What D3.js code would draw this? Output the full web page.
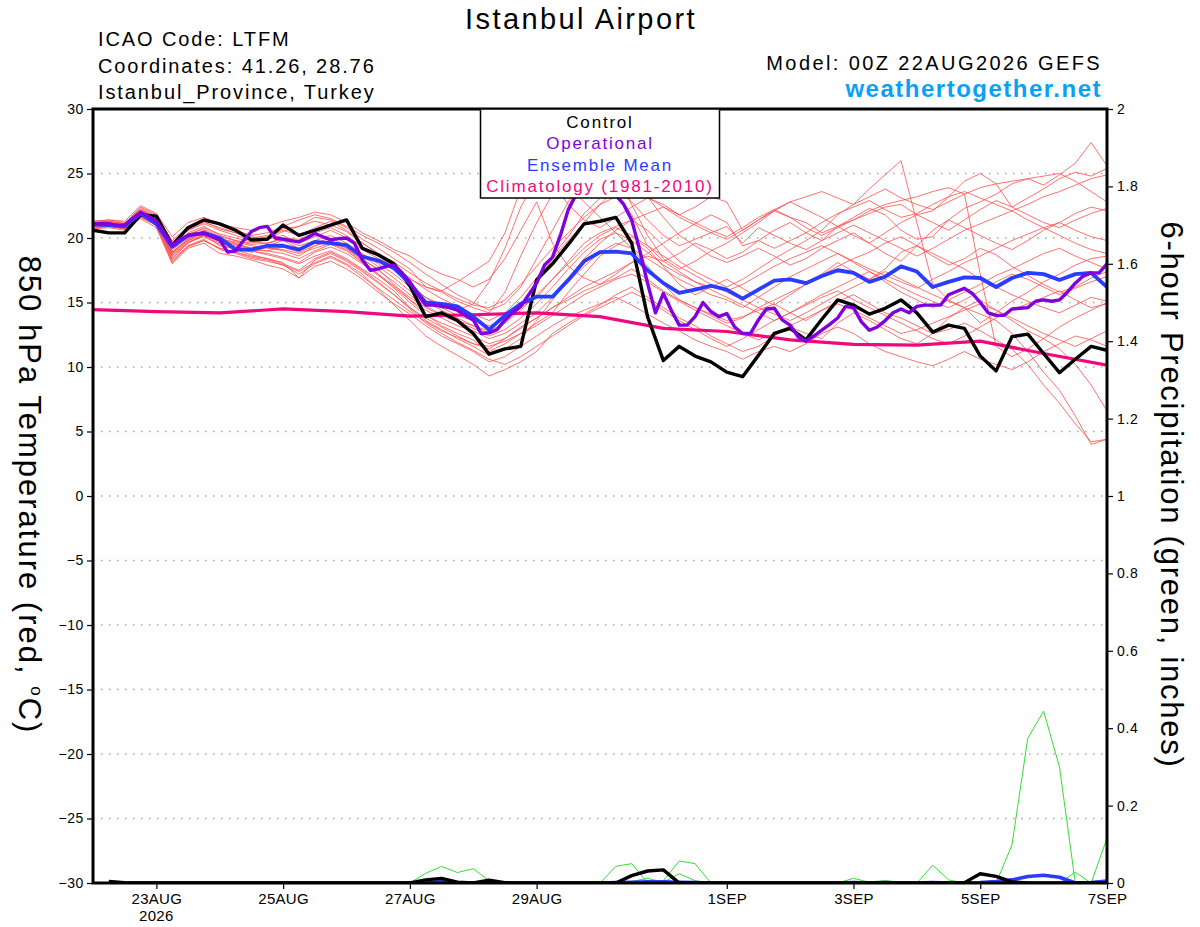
<!DOCTYPE html>
<html>
<head>
<meta charset="utf-8">
<title>Istanbul Airport - GEFS 850 hPa temperature</title>
<script src="https://cdn.jsdelivr.net/npm/d3@7"></script>
<style>
  body { margin: 0; background: #fff; }
  text { font-family: "Liberation Sans", Arial, Helvetica, sans-serif; }
</style>
</head>
<body>
<svg id="chart" width="1200" height="927"></svg>
<script>

// ---- data (6-hourly from 00Z 22AUG2026, index 0..64) ----
var controlTemp = [
  20.6, 20.4, 20.4, 21.8, 21.7, 19.45, 20.8, 21.4,
  21.1, 20.6, 19.85, 19.9, 21.0, 20.2, 20.6, 21.0,
  21.4, 19.2, 18.7, 18.0, 16.3, 13.9, 14.2, 13.6,
  12.6, 11.0, 11.4, 11.6, 16.75, 18.0, 19.5, 21.1,
  21.3, 21.6, 19.6, 13.9, 10.5, 11.6, 10.85, 10.4,
  9.6, 9.25, 10.9, 12.6, 13.0, 12.1, 13.7, 15.2,
  14.8, 14.1, 14.55, 15.2, 14.2, 12.7, 13.25, 13.0,
  10.85, 9.7, 12.35, 12.55, 11.05, 9.56, 10.6, 11.6,
  11.3
];

var meanTemp = [
  21.05, 21.0, 20.9, 21.9, 21.1, 19.3, 20.2, 20.4,
  20.0, 19.1, 19.1, 19.4, 19.4, 19.1, 19.7, 19.6,
  19.45, 18.55, 18.25, 17.65, 16.5, 15.0, 14.9, 14.7,
  13.9, 12.9, 14.0, 14.9, 15.45, 15.45, 16.75, 18.2,
  18.9, 18.95, 18.8, 17.5, 16.5, 15.75, 16.0, 16.3,
  16.0, 15.3, 16.0, 16.7, 16.8, 16.5, 17.05, 17.5,
  17.3, 16.6, 17.0, 17.8, 17.4, 16.2, 16.6, 16.95,
  16.9, 16.2, 16.9, 17.3, 17.2, 16.75, 17.2, 17.3,
  16.2
];

// operational run is 3-hourly (index 0..128)
var operTemp = [
  21.1, 21.1, 21.1, 21.0, 21.0, 21.5, 22.0, 21.7,
  21.3, 20.4, 19.45, 19.9, 20.2, 20.3, 20.35, 20.1,
  19.85, 18.9, 19.0, 19.8, 20.5, 20.8, 20.9, 20.0,
  19.9, 19.8, 19.7, 20.0, 20.35, 20.1, 19.85, 19.95,
  20.0, 19.6, 18.3, 17.5, 17.6, 17.8, 17.9, 17.3,
  16.6, 15.6, 14.8, 14.8, 14.7, 14.6, 14.4, 14.0,
  13.65, 12.6, 12.65, 12.9, 13.65, 14.2, 14.7, 15.6,
  16.5, 17.9, 18.5, 20.2, 22.2, 23.4, 24.6, 25.3,
  25.6, 25.2, 23.3, 22.6, 21.4, 19.1, 16.5, 14.2,
  15.7, 14.4, 13.25, 13.25, 13.9, 15.0, 14.3, 13.9,
  14.15, 13.1, 12.6, 12.6, 13.65, 14.5, 14.55, 13.65,
  13.25, 12.35, 12.0, 12.4, 12.85, 13.3, 13.8, 14.7,
  14.6, 13.5, 12.85, 13.1, 13.6, 14.2, 14.5, 14.2,
  14.7, 14.8, 14.8, 14.8, 15.6, 15.85, 16.1, 15.7,
  15.0, 14.2, 14.0, 14.0, 14.5, 14.55, 14.6, 15.1,
  15.2, 15.1, 15.2, 15.8, 16.5, 17.05, 17.3, 17.3,
  18.0
];

// climatology 1981-2010, daily (22AUG .. 7SEP)
var climTemp = [14.45, 14.3, 14.2, 14.5, 14.3, 13.95, 14.05, 14.2, 13.9,
                13.0, 12.75, 12.1, 11.75, 11.7, 12.0, 11.05, 10.15];

var memberTemps = [
  [21.2, 21.3, 21.1, 22.4, 21.8, 19.6, 20.6, 21.2, 20.8, 20.4, 20.1, 19.9, 20.5, 20.9, 21.6, 21.4,
   20.8, 19.9, 19.2, 18.4, 17.6, 16.2, 15.8, 15.1, 14.6, 14.2, 15.8, 18.6, 21.2, 23.4, 24.8, 25.6,
   24.9, 23.6, 21.8, 19.4, 18.2, 18.8, 19.6, 19.1, 18.4, 18.9, 19.8, 20.6, 21.2, 20.4, 19.8, 20.9,
   21.6, 22.3, 21.8, 20.6, 19.9, 20.1, 21.4, 22.3, 22.8, 23.4, 24.2, 24.6, 24.1, 24.9, 25.8, 27.4, 25.6],
  [20.9, 21.0, 20.8, 21.8, 21.3, 18.4, 19.6, 20.2, 19.4, 19.2, 18.9, 19.3, 19.0, 18.6, 19.4, 19.8,
   19.2, 18.3, 17.6, 16.4, 15.2, 14.1, 13.2, 12.6, 12.1, 11.2, 11.8, 12.6, 13.4, 14.2, 15.8, 17.2,
   18.6, 19.4, 20.1, 19.2, 17.8, 16.4, 15.6, 16.2, 16.8, 16.1, 15.4, 14.8, 15.6, 16.4, 17.2, 18.1,
   17.4, 16.8, 17.6, 18.9, 19.4, 18.6, 17.9, 18.4, 19.2, 18.7, 17.8, 17.1, 16.4, 15.8, 16.2, 16.9, 17.4],
  [21.0, 21.1, 20.9, 22.0, 20.9, 18.1, 19.4, 19.9, 19.1, 18.8, 18.4, 18.2, 17.9, 17.4, 18.1, 18.6,
   18.0, 17.2, 16.0, 14.8, 13.6, 12.4, 11.6, 10.9, 10.2, 9.3, 9.8, 10.4, 11.2, 12.6, 13.4, 14.1,
   14.8, 15.6, 16.2, 15.4, 14.6, 13.8, 13.2, 12.4, 11.8, 11.2, 11.6, 12.4, 13.1, 12.6, 12.2, 13.4,
   14.2, 13.6, 12.9, 12.2, 11.8, 12.6, 13.8, 14.6, 15.2, 14.4, 13.6, 12.8, 12.2, 11.4, 10.2, 8.6, 6.6],
  [21.3, 21.4, 21.2, 22.2, 21.6, 19.2, 20.4, 20.9, 20.2, 19.8, 19.6, 19.9, 20.2, 19.6, 20.1, 20.6,
   20.0, 19.1, 18.4, 17.9, 16.8, 16.2, 15.9, 16.6, 17.4, 18.2, 20.4, 23.8, 25.6, 24.2, 22.6, 21.4,
   20.8, 21.6, 22.4, 23.1, 22.6, 21.8, 22.4, 23.2, 22.8, 20.6, 21.4, 22.1, 21.6, 21.2, 20.4, 20.9,
   21.4, 21.9, 22.4, 22.6, 21.8, 22.1, 23.2, 24.4, 25.0, 24.2, 22.4, 23.1, 23.8, 24.6, 25.1, 24.8, 25.4],
  [20.8, 20.9, 20.7, 21.6, 21.0, 18.6, 19.8, 20.2, 19.6, 19.3, 19.0, 18.7, 18.4, 18.0, 18.6, 19.0,
   18.4, 17.6, 16.8, 15.9, 14.6, 13.8, 13.1, 12.4, 11.8, 11.4, 12.2, 13.1, 13.8, 14.6, 15.2, 15.9,
   16.4, 16.9, 17.6, 16.8, 15.9, 15.2, 14.6, 14.1, 13.6, 13.9, 14.4, 14.9, 14.2, 13.6, 14.4, 15.1,
   15.6, 14.9, 14.2, 13.8, 13.2, 12.6, 12.9, 13.4, 12.8, 12.1, 11.4, 10.2, 8.6, 7.2, 5.6, 4.2, 4.4],
  [21.1, 21.2, 21.0, 22.1, 21.4, 19.4, 20.6, 21.1, 20.6, 20.2, 19.8, 20.1, 20.6, 20.2, 20.8, 21.3,
   20.6, 19.6, 18.8, 17.6, 16.4, 15.4, 14.6, 14.0, 13.6, 13.2, 13.8, 14.6, 15.4, 16.8, 18.2, 19.6,
   20.4, 20.9, 21.4, 20.6, 19.4, 18.2, 17.4, 16.8, 16.2, 16.8, 17.6, 18.4, 19.1, 19.8, 20.6, 21.8,
   22.6, 23.8, 24.9, 26.0, 21.2, 16.4, 15.2, 14.6, 13.4, 14.2, 15.1, 15.8, 16.6, 17.2, 17.9, 18.4, 18.6],
  [21.0, 21.1, 20.9, 21.9, 21.2, 18.9, 19.9, 20.6, 20.0, 19.6, 19.2, 19.4, 19.8, 19.2, 19.6, 20.0,
   19.4, 18.6, 17.8, 16.9, 15.9, 15.1, 14.4, 13.8, 13.2, 12.6, 13.4, 14.8, 16.6, 18.4, 19.8, 21.2,
   22.6, 23.8, 24.6, 23.2, 21.6, 20.2, 19.4, 18.6, 18.1, 18.6, 19.2, 18.6, 17.9, 18.4, 19.2, 19.8,
   20.4, 19.6, 18.8, 18.2, 19.4, 20.6, 21.4, 20.8, 20.2, 19.6, 19.1, 19.8, 20.6, 21.2, 21.9, 22.4, 22.1],
  [20.7, 20.8, 20.6, 21.5, 20.8, 18.0, 19.2, 19.6, 18.8, 18.6, 18.3, 17.9, 17.6, 16.9, 17.8, 18.2,
   17.6, 16.8, 15.8, 14.9, 14.1, 13.2, 12.4, 11.8, 11.2, 10.4, 10.8, 11.6, 12.4, 13.2, 13.9, 14.4,
   14.9, 15.4, 14.8, 14.1, 13.4, 12.8, 12.1, 11.6, 11.2, 10.6, 11.2, 11.6, 11.2, 11.8, 12.6, 13.1,
   12.6, 11.8, 11.2, 10.8, 10.4, 10.1, 10.6, 11.2, 10.6, 10.2, 9.8, 10.4, 11.2, 11.8, 12.4, 12.1, 11.6],
  [21.2, 21.3, 21.1, 22.3, 21.7, 19.8, 20.9, 21.5, 21.0, 20.6, 20.2, 20.4, 20.9, 21.4, 21.8, 21.5,
   20.9, 20.2, 19.6, 18.9, 18.1, 17.2, 16.4, 15.6, 15.0, 14.4, 14.9, 16.2, 18.4, 20.6, 22.8, 24.6,
   25.4, 24.8, 22.6, 20.2, 18.4, 17.6, 18.2, 19.0, 19.6, 20.4, 21.2, 22.1, 22.8, 22.2, 21.6, 20.9,
   20.2, 19.6, 20.4, 21.2, 21.8, 21.2, 20.6, 21.4, 22.2, 22.9, 22.4, 21.8, 21.2, 20.8, 21.4, 21.9, 22.3],
  [21.0, 21.0, 20.8, 21.7, 21.1, 18.7, 19.6, 20.3, 19.7, 19.4, 19.0, 18.8, 18.5, 18.1, 18.9, 19.3,
   18.8, 18.0, 17.1, 16.2, 15.2, 14.4, 13.8, 13.2, 12.8, 12.2, 12.6, 13.4, 14.2, 15.4, 16.6, 17.8,
   18.9, 19.6, 19.2, 18.4, 17.6, 16.8, 16.2, 15.6, 15.2, 14.6, 15.4, 16.2, 17.0, 17.6, 18.2, 18.8,
   18.1, 17.4, 16.8, 16.2, 15.6, 15.1, 14.6, 15.2, 15.9, 16.6, 17.2, 16.8, 16.2, 15.6, 16.1, 16.6, 17.0],
  [21.3, 21.4, 21.3, 22.5, 21.9, 20.1, 21.2, 21.6, 21.1, 20.8, 20.6, 20.9, 21.3, 21.6, 22.0, 21.8,
   21.2, 20.4, 19.8, 19.1, 18.6, 17.8, 17.2, 16.8, 16.2, 16.8, 18.4, 20.6, 22.8, 19.6, 17.8, 16.9,
   16.4, 17.2, 18.1, 18.8, 19.6, 20.4, 21.1, 21.8, 21.2, 19.4, 19.8, 19.2, 19.8, 20.4, 21.2, 21.9,
   22.4, 22.9, 22.2, 21.6, 21.9, 22.6, 23.2, 23.6, 23.1, 22.6, 22.1, 21.4, 20.8, 20.2, 19.6, 19.1, 18.8],
  [20.9, 21.0, 20.7, 21.8, 21.2, 18.8, 19.9, 20.4, 19.9, 19.7, 19.4, 19.2, 19.1, 18.8, 19.2, 19.6,
   19.1, 18.2, 17.2, 16.1, 15.0, 14.0, 13.4, 12.9, 12.4, 11.8, 12.2, 13.0, 13.8, 14.6, 15.4, 16.2,
   16.8, 17.4, 18.1, 18.6, 18.2, 17.4, 16.6, 16.0, 15.4, 14.8, 14.2, 13.6, 14.2, 14.9, 15.6, 16.2,
   16.8, 17.4, 16.6, 15.8, 15.2, 14.6, 15.2, 15.8, 16.4, 17.1, 17.6, 18.2, 18.8, 19.2, 18.6, 18.1, 17.6],
  [21.1, 21.2, 21.0, 22.0, 21.5, 19.0, 20.2, 20.8, 20.3, 20.0, 19.7, 19.6, 19.9, 19.4, 19.8, 20.2,
   19.6, 18.8, 18.0, 17.2, 16.2, 15.4, 14.8, 14.4, 14.9, 16.6, 19.2, 22.4, 24.6, 25.2, 24.1, 22.8,
   21.6, 20.4, 19.2, 17.8, 16.4, 15.2, 14.6, 14.0, 13.4, 13.8, 14.6, 15.2, 15.8, 16.4, 17.1, 17.8,
   18.4, 18.9, 19.6, 20.1, 19.4, 18.8, 18.2, 17.6, 16.8, 16.2, 15.6, 15.1, 14.6, 14.2, 14.8, 15.4, 15.1],
  [20.8, 20.9, 20.7, 21.7, 21.0, 18.3, 19.4, 19.8, 19.2, 18.9, 18.6, 18.4, 18.1, 16.9, 18.3, 18.8,
   18.2, 17.4, 16.5, 15.6, 14.6, 13.6, 12.9, 12.2, 11.6, 10.9, 11.4, 12.2, 13.6, 15.2, 16.8, 18.4,
   19.6, 20.6, 21.4, 21.9, 22.4, 21.8, 21.2, 20.6, 20.1, 20.8, 21.6, 22.2, 21.6, 20.8, 20.2, 20.8,
   21.4, 22.1, 22.6, 22.9, 23.2, 23.6, 23.9, 23.4, 17.2, 11.6, 10.8, 11.4, 12.2, 13.1, 13.8, 14.4, 15.0],
  [21.0, 21.1, 20.8, 21.9, 21.3, 18.5, 19.7, 20.1, 19.5, 19.1, 18.7, 18.4, 18.0, 17.5, 18.4, 18.9,
   18.3, 17.5, 16.6, 15.6, 14.5, 13.4, 12.6, 11.9, 11.3, 10.6, 10.2, 10.8, 11.6, 12.4, 13.2, 14.0,
   14.6, 15.2, 15.8, 15.2, 14.4, 13.6, 12.9, 12.2, 11.6, 12.2, 12.9, 13.6, 14.2, 14.8, 15.4, 15.9,
   15.2, 14.6, 14.0, 13.4, 12.8, 12.2, 11.8, 12.4, 13.1, 13.8, 14.4, 14.9, 15.4, 15.9, 15.2, 14.6, 14.9],
  [21.2, 21.3, 21.1, 22.2, 21.6, 19.5, 20.7, 21.3, 20.7, 20.4, 20.0, 20.2, 20.7, 20.9, 21.3, 21.0,
   20.5, 19.6, 18.8, 18.1, 17.3, 16.5, 15.9, 15.3, 14.8, 14.6, 15.2, 16.4, 17.8, 19.2, 20.4, 21.6,
   22.6, 23.2, 23.8, 23.2, 22.4, 21.6, 21.0, 20.4, 19.9, 20.6, 21.4, 22.2, 22.8, 23.2, 23.6, 23.1,
   22.6, 23.2, 23.8, 23.1, 22.6, 22.2, 22.8, 23.4, 23.9, 24.2, 24.4, 24.6, 24.8, 25.0, 24.4, 23.6, 22.8],
  [20.9, 21.0, 20.8, 21.8, 21.2, 18.8, 19.8, 20.4, 19.8, 19.5, 19.2, 19.0, 18.8, 18.4, 19.0, 19.5,
   19.0, 18.1, 17.2, 16.3, 15.4, 14.6, 14.0, 13.5, 13.0, 12.4, 12.9, 13.8, 14.9, 16.2, 17.6, 18.9,
   19.9, 20.4, 19.8, 18.9, 17.9, 17.2, 16.6, 16.2, 15.9, 16.4, 17.1, 17.8, 18.4, 18.9, 19.4, 18.8,
   18.2, 17.6, 17.1, 16.6, 16.1, 16.8, 17.4, 18.1, 18.6, 19.2, 19.8, 20.3, 20.8, 21.2, 20.6, 20.1, 19.8],
  [21.1, 21.1, 20.9, 21.9, 21.3, 18.9, 20.0, 20.5, 19.9, 19.5, 19.1, 19.0, 19.3, 18.9, 19.4, 19.8,
   19.2, 18.4, 17.5, 16.6, 15.6, 14.7, 14.1, 13.6, 13.2, 12.8, 13.4, 14.4, 15.6, 16.8, 18.0, 19.2,
   20.2, 20.8, 20.2, 19.4, 18.6, 17.8, 17.1, 16.4, 15.8, 15.2, 14.6, 14.1, 13.6, 14.2, 14.9, 15.6,
   16.2, 16.8, 17.4, 16.8, 16.2, 15.6, 15.1, 14.6, 14.1, 13.6, 12.6, 11.2, 9.6, 8.2, 6.2, 4.0, 4.4],
  [21.2, 21.2, 21.0, 22.1, 21.5, 19.3, 20.3, 20.7, 20.1, 19.8, 19.5, 19.6, 20.0, 19.9, 20.4, 20.8,
   20.2, 19.3, 18.6, 17.8, 16.9, 16.0, 15.3, 14.7, 14.1, 13.6, 14.2, 15.4, 16.9, 18.6, 20.1, 21.9,
   23.1, 23.9, 22.8, 21.4, 20.2, 19.4, 19.9, 20.4, 20.9, 19.6, 20.8, 20.2, 19.6, 19.1, 19.8, 20.4,
   21.0, 20.4, 19.8, 19.2, 18.6, 19.2, 19.9, 20.6, 21.1, 21.6, 22.1, 22.6, 23.2, 23.6, 24.1, 24.6, 24.9],
  [20.8, 20.9, 20.8, 21.6, 21.0, 18.2, 19.3, 19.8, 19.2, 18.9, 18.5, 18.3, 17.9, 17.2, 18.0, 18.5,
   17.9, 17.0, 16.1, 15.2, 14.3, 13.5, 12.8, 12.3, 11.8, 11.6, 12.0, 12.6, 13.2, 14.0, 14.8, 15.6,
   16.2, 16.8, 17.2, 16.6, 15.8, 15.1, 14.4, 13.8, 13.2, 12.6, 12.1, 12.6, 13.2, 13.8, 14.4, 14.9,
   14.4, 13.8, 13.2, 12.6, 12.9, 13.4, 13.9, 14.4, 14.9, 14.4, 13.8, 13.2, 12.6, 12.1, 11.6, 12.2, 12.8]
];

// 6-hour precipitation (inches), index 1..64 (index 0 has no accumulation)
var controlPrecip = [
  null, 0.004, 0.001, 0, 0, 0, 0, 0, 0, 0, 0, 0, 0, 0, 0, 0,
  0, 0, 0, 0, 0, 0.008, 0.012, 0.002, 0, 0.007, 0.001, 0, 0, 0, 0, 0,
  0, 0, 0.019, 0.031, 0.034, 0, 0, 0, 0, 0, 0, 0, 0, 0, 0, 0,
  0, 0, 0, 0, 0, 0, 0, 0.001, 0.024, 0.017, 0.003, 0, 0, 0, 0, 0, 0
];
var meanPrecip = [
  null, 0.001, 0, 0, 0, 0, 0, 0, 0, 0, 0, 0, 0, 0, 0, 0,
  0, 0, 0, 0, 0, 0.002, 0.003, 0.001, 0, 0.001, 0, 0, 0, 0, 0, 0,
  0, 0.001, 0.002, 0.003, 0.003, 0.002, 0.001, 0, 0, 0, 0, 0, 0, 0, 0, 0,
  0.001, 0, 0.001, 0, 0, 0.001, 0, 0, 0.001, 0.004, 0.008, 0.017, 0.02, 0.015, 0, 0.001, 0.005
];
var memberPrecip = [
  [null, 0, 0, 0, 0, 0, 0, 0, 0, 0, 0, 0, 0, 0, 0, 0,
   0, 0, 0, 0, 0, 0, 0, 0, 0, 0, 0, 0, 0, 0, 0, 0,
   0, 0, 0, 0, 0, 0, 0, 0, 0, 0, 0, 0, 0, 0, 0, 0,
   0, 0, 0, 0, 0, 0, 0, 0, 0, 0, 0.098, 0.374, 0.444, 0.30, 0, 0, 0.116],
  [null, 0, 0, 0, 0, 0, 0, 0, 0, 0, 0, 0, 0, 0, 0, 0,
   0, 0, 0, 0, 0, 0.025, 0.043, 0.027, 0.037, 0.006, 0.002, 0, 0, 0, 0, 0,
   0, 0, 0, 0, 0, 0, 0, 0, 0, 0, 0, 0, 0, 0, 0, 0,
   0, 0, 0, 0, 0, 0, 0, 0, 0, 0, 0, 0, 0, 0, 0, 0, 0],
  [null, 0, 0, 0, 0, 0, 0, 0, 0, 0, 0, 0, 0, 0, 0, 0,
   0, 0, 0, 0, 0, 0, 0, 0, 0, 0, 0, 0, 0, 0, 0, 0,
   0, 0.043, 0.05, 0, 0, 0, 0, 0, 0, 0, 0, 0, 0, 0, 0, 0,
   0, 0, 0, 0, 0, 0, 0, 0, 0, 0, 0, 0, 0, 0, 0, 0, 0],
  [null, 0, 0, 0, 0, 0, 0, 0, 0, 0, 0, 0, 0, 0, 0, 0,
   0, 0, 0, 0, 0, 0, 0, 0, 0, 0, 0, 0, 0, 0, 0, 0,
   0, 0, 0, 0, 0.006, 0.057, 0.05, 0, 0, 0, 0, 0, 0, 0, 0, 0,
   0, 0, 0, 0, 0, 0, 0, 0, 0, 0, 0, 0, 0, 0, 0, 0, 0],
  [null, 0, 0, 0, 0, 0, 0, 0, 0, 0, 0, 0, 0, 0, 0, 0,
   0, 0, 0, 0, 0, 0, 0.003, 0, 0.004, 0, 0, 0, 0, 0, 0, 0,
   0, 0, 0.004, 0.012, 0.002, 0.024, 0.006, 0, 0, 0, 0, 0, 0, 0, 0, 0,
   0, 0, 0, 0, 0, 0, 0, 0, 0, 0, 0, 0, 0, 0, 0.028, 0, 0],
  [null, 0, 0, 0, 0, 0, 0, 0, 0, 0, 0, 0, 0, 0, 0, 0,
   0, 0, 0, 0, 0, 0, 0, 0, 0, 0, 0, 0, 0, 0, 0, 0,
   0, 0, 0, 0, 0, 0, 0, 0, 0, 0, 0, 0, 0, 0, 0.003, 0,
   0.012, 0.002, 0, 0, 0, 0.046, 0.008, 0, 0, 0, 0, 0, 0, 0, 0, 0, 0],
  [null, 0, 0, 0, 0, 0, 0, 0, 0, 0, 0, 0, 0, 0, 0, 0,
   0, 0, 0, 0, 0, 0, 0, 0, 0, 0, 0, 0, 0, 0, 0, 0,
   0, 0, 0, 0, 0, 0, 0, 0, 0, 0, 0, 0, 0, 0, 0, 0.002,
   0.004, 0.003, 0.006, 0.002, 0, 0, 0.003, 0, 0, 0, 0, 0, 0, 0, 0, 0, 0.004]
];

var xTickDates = ["2026-08-23", "2026-08-25", "2026-08-27", "2026-08-29",
                  "2026-09-01", "2026-09-03", "2026-09-05", "2026-09-07"];
var tempTicks = [-30, -25, -20, -15, -10, -5, 0, 5, 10, 15, 20, 25, 30];
var precipTicks = [0, 0.2, 0.4, 0.6, 0.8, 1, 1.2, 1.4, 1.6, 1.8, 2];
var legendItems = [
  ["Control", "#000000"],
  ["Operational", "#8000e0"],
  ["Ensemble Mean", "#2a3cff"],
  ["Climatology (1981-2010)", "#f0087e"]
];

// ---- chart ----
var svg = d3.select("#chart");
var plotL = 93, plotR = 1107, plotT = 109, plotB = 883;
var start = Date.UTC(2026, 7, 22, 0);
var hour = 3600 * 1000;

var x = d3.scaleUtc().domain([new Date(start), new Date(start + 384 * hour)]).range([plotL, plotR]);
var yT = d3.scaleLinear().domain([-30, 30]).range([plotB, plotT]);
var yP = d3.scaleLinear().domain([0, 2]).range([plotB, plotT]);

function t6(i) { return new Date(start + i * 6 * hour); }
function t3(i) { return new Date(start + i * 3 * hour); }
function t24(i) { return new Date(start + i * 24 * hour); }

svg.append("rect").attr("width", 1200).attr("height", 927).attr("fill", "#fff");

svg.append("defs").append("clipPath").attr("id", "plotclip")
  .append("rect").attr("x", plotL).attr("y", plotT).attr("width", plotR - plotL).attr("height", plotB - plotT);

// dotted grid lines at the temperature ticks
svg.append("g").selectAll("line")
  .data(tempTicks.filter(function(d) { return d > -30 && d < 30; }))
  .enter().append("line")
  .attr("x1", plotL).attr("x2", plotR)
  .attr("y1", function(d) { return yT(d); }).attr("y2", function(d) { return yT(d); })
  .attr("stroke", "#aaaaaa").attr("stroke-width", 1.6)
  .attr("stroke-dasharray", "1.6,6.4");

var plot = svg.append("g").attr("clip-path", "url(#plotclip)");

var lineT6 = d3.line().x(function(d, i) { return x(t6(i)); }).y(function(d) { return yT(d); });
var lineT3 = d3.line().x(function(d, i) { return x(t3(i)); }).y(function(d) { return yT(d); });
var lineT24 = d3.line().x(function(d, i) { return x(t24(i)); }).y(function(d) { return yT(d); });
var lineP = d3.line()
  .defined(function(d) { return d !== null; })
  .x(function(d, i) { return x(t6(i)); }).y(function(d) { return yP(d); });

// ensemble members
plot.append("g").selectAll("path")
  .data(memberTemps)
  .enter().append("path")
  .attr("d", lineT6)
  .attr("fill", "none").attr("stroke", "#ff4d4d").attr("stroke-opacity", 0.8)
  .attr("stroke-width", 1);

// member precipitation
plot.append("g").selectAll("path")
  .data(memberPrecip)
  .enter().append("path")
  .attr("d", lineP)
  .attr("fill", "none").attr("stroke", "#33dd33").attr("stroke-width", 1);

plot.append("path").datum(climTemp).attr("d", lineT24)
  .attr("fill", "none").attr("stroke", "#f0087e").attr("stroke-width", 3.2);

plot.append("path").datum(controlTemp).attr("d", lineT6)
  .attr("fill", "none").attr("stroke", "#000").attr("stroke-width", 3.4)
  .attr("stroke-linejoin", "round");

plot.append("path").datum(meanTemp).attr("d", lineT6)
  .attr("fill", "none").attr("stroke", "#2a3cff").attr("stroke-width", 3.8)
  .attr("stroke-linejoin", "round");

plot.append("path").datum(operTemp).attr("d", lineT3)
  .attr("fill", "none").attr("stroke", "#8000e0").attr("stroke-width", 3.4)
  .attr("stroke-linejoin", "round");

plot.append("path").datum(meanPrecip).attr("d", lineP)
  .attr("fill", "none").attr("stroke", "#2a3cff").attr("stroke-width", 3.6)
  .attr("stroke-linejoin", "round");

plot.append("path").datum(controlPrecip).attr("d", lineP)
  .attr("fill", "none").attr("stroke", "#000").attr("stroke-width", 3.4)
  .attr("stroke-linejoin", "round");

// frame
svg.append("rect")
  .attr("x", plotL).attr("y", plotT).attr("width", plotR - plotL).attr("height", plotB - plotT)
  .attr("fill", "none").attr("stroke", "#000").attr("stroke-width", 3);

// axes
var axisFont = function(g) {
  g.select(".domain").remove();
  g.selectAll(".tick line").attr("stroke", "#000").attr("stroke-width", 1.2);
  g.selectAll(".tick text")
    .attr("fill", "#000")
    .style("font-family", '"Liberation Sans", Arial, sans-serif')
    .style("font-size", "14px")
    .style("letter-spacing", "0.6px");
};

svg.append("g").attr("transform", "translate(" + plotL + ",0)")
  .call(d3.axisLeft(yT).tickValues(tempTicks).tickSize(6).tickPadding(3).tickFormat(d3.format("d")))
  .call(axisFont);

svg.append("g").attr("transform", "translate(" + plotR + ",0)")
  .call(d3.axisRight(yP).tickValues(precipTicks).tickSize(6).tickPadding(4).tickFormat(d3.format("~g")))
  .call(axisFont);

var dayFmt = d3.utcFormat("%-d%b");
var xAxisG = svg.append("g").attr("transform", "translate(0," + plotB + ")")
  .call(d3.axisBottom(x)
    .tickValues(xTickDates.map(function(s) { return new Date(s + "T00:00:00Z"); }))
    .tickSize(6).tickPadding(4)
    .tickFormat(function(d) { return dayFmt(d).toUpperCase(); }))
  .call(axisFont);
xAxisG.selectAll(".tick text").style("font-size", "15px").style("letter-spacing", "0.3px");

svg.append("text")
  .attr("x", x(new Date(xTickDates[0] + "T00:00:00Z"))).attr("y", 921)
  .attr("text-anchor", "middle")
  .style("font-size", "15px").style("letter-spacing", "0.3px")
  .text("2026");

// axis titles
svg.append("text")
  .attr("transform", "translate(19,495) rotate(90)")
  .attr("text-anchor", "middle")
  .style("font-size", "31px").style("letter-spacing", "2px")
  .call(function(t) {
    t.append("tspan").text("850 hPa Temperature (red, ");
    t.append("tspan").attr("dy", -12).style("font-size", "17px").text("o");
    t.append("tspan").attr("dy", 12).text("C)");
  });

svg.append("text")
  .attr("transform", "translate(1161,495) rotate(90)")
  .attr("text-anchor", "middle")
  .style("font-size", "31px").style("letter-spacing", "1.75px")
  .text("6-hour Precipitation (green, inches)");

// header text
svg.append("text").attr("x", 581).attr("y", 29).attr("text-anchor", "middle")
  .style("font-size", "29px").style("letter-spacing", "2.4px").text("Istanbul Airport");

var headerLeft = ["ICAO Code: LTFM", "Coordinates: 41.26, 28.76", "Istanbul_Province, Turkey"];
svg.append("g").selectAll("text")
  .data(headerLeft)
  .enter().append("text")
  .attr("x", 98).attr("y", function(d, i) { return 46 + i * 26.7; })
  .style("font-size", "20px").style("letter-spacing", "1.9px")
  .text(function(d) { return d; });

svg.append("text").attr("x", 1102).attr("y", 70).attr("text-anchor", "end")
  .style("font-size", "20px").style("letter-spacing", "2.4px").text("Model: 00Z 22AUG2026 GEFS");

svg.append("text").attr("x", 1102).attr("y", 97).attr("text-anchor", "end")
  .attr("fill", "#0aa0f5")
  .style("font-size", "24px").style("font-weight", "bold").style("letter-spacing", "1.5px")
  .text("weathertogether.net");

// legend box
var legend = svg.append("g");
legend.append("rect")
  .attr("x", 480.5).attr("y", 109).attr("width", 239).attr("height", 89)
  .attr("fill", "#fff").attr("stroke", "#000").attr("stroke-width", 1.5);
legend.selectAll("text")
  .data(legendItems)
  .enter().append("text")
  .attr("x", 600).attr("y", function(d, i) { return 127.5 + i * 21.5; })
  .attr("text-anchor", "middle")
  .attr("fill", function(d) { return d[1]; })
  .style("font-size", "17px").style("letter-spacing", "1.8px")
  .text(function(d) { return d[0]; });

</script>
</body>
</html>
